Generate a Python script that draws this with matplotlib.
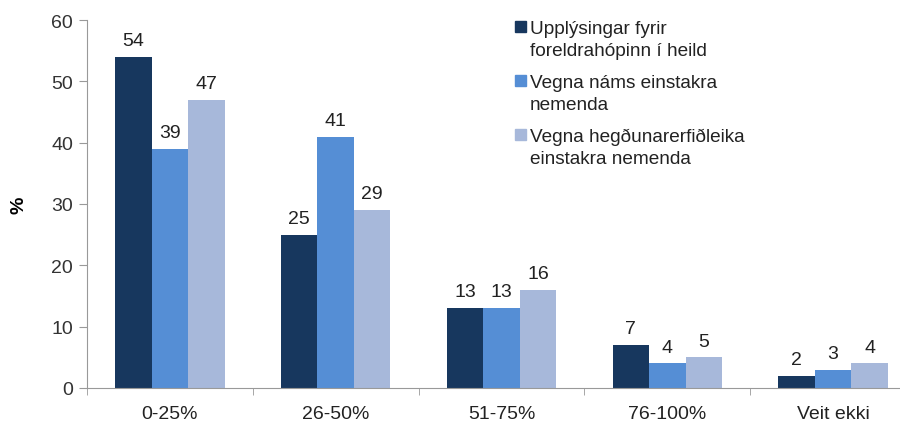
import matplotlib
matplotlib.use("Agg")
import matplotlib.pyplot as plt
import numpy as np
from matplotlib.patches import Rectangle

categories = ["0-25%", "26-50%", "51-75%", "76-100%", "Veit ekki"]
series_names = ["Upplýsingar fyrir\nforeldrahópinn í heild",
                "Vegna náms einstakra\nnemenda",
                "Vegna hegðunarerfiðleika\neinstakra nemenda"]
s1 = [54, 25, 13, 7, 2]
s2 = [39, 41, 13, 4, 3]
s3 = [47, 29, 16, 5, 4]
yticks = [0, 10, 20, 30, 40, 50, 60]

colors = ["#17375E", "#558ED5", "#A7B8DA"]

plt.rcParams['font.family'] = ['Liberation Sans', 'DejaVu Sans']

W, H = 900, 427
fig = plt.figure(figsize=(9, 4.27), dpi=100)
ax = fig.add_axes([87/W, 38/H, (916-87)/W, (389-21)/H])

x = np.arange(len(categories))
w = 0.22
for i, (vals, c) in enumerate(zip([s1, s2, s3], colors)):
    pos = x + (i - 1) * w
    ax.bar(pos, vals, width=w, color=c)
    for p, v in zip(pos, vals):
        ax.annotate(str(v), (p, v), xytext=(0, 8.5), textcoords="offset points",
                    ha="center", va="baseline", fontsize=14, color="#222222")

ax.set_xlim(-0.5, len(categories) - 0.5)
ax.set_ylim(0, 60)
ax.set_yticks(yticks)
ax.set_yticklabels([str(t) for t in yticks], fontsize=14, color="#333333")
ax.set_xticks(x)
ax.set_xticklabels(categories, fontsize=14, color="#222222")
ax.tick_params(axis='x', length=0, pad=12)
ax.set_xticks(np.arange(-0.5, len(categories), 1), minor=True)
ax.tick_params(axis='x', which='minor', length=5, color="#999999", direction='out')
ax.tick_params(axis='y', length=6, color="#999999", direction='out', pad=4)
for s in ['top', 'right']:
    ax.spines[s].set_visible(False)
ax.spines['left'].set_color("#999999")
ax.spines['bottom'].set_color("#999999")
ax.set_ylabel("%", fontsize=14, fontweight='bold', labelpad=17)

# manual legend (positions in pixels from top-left)
entry_baselines = [34, 88, 142]
line_step = 22
for name, c, b in zip(series_names, colors, entry_baselines):
    sq_top, sq_size = b - 12, 11
    fig.add_artist(Rectangle((515/W, 1 - (sq_top + sq_size)/H), sq_size/W, sq_size/H,
                             transform=fig.transFigure, color=c))
    for j, line in enumerate(name.split("\n")):
        fig.text(530/W, 1 - (b + j*line_step)/H, line, fontsize=13.7,
                 ha='left', va='baseline', color="#222222")

fig.savefig("out.png", dpi=100)
